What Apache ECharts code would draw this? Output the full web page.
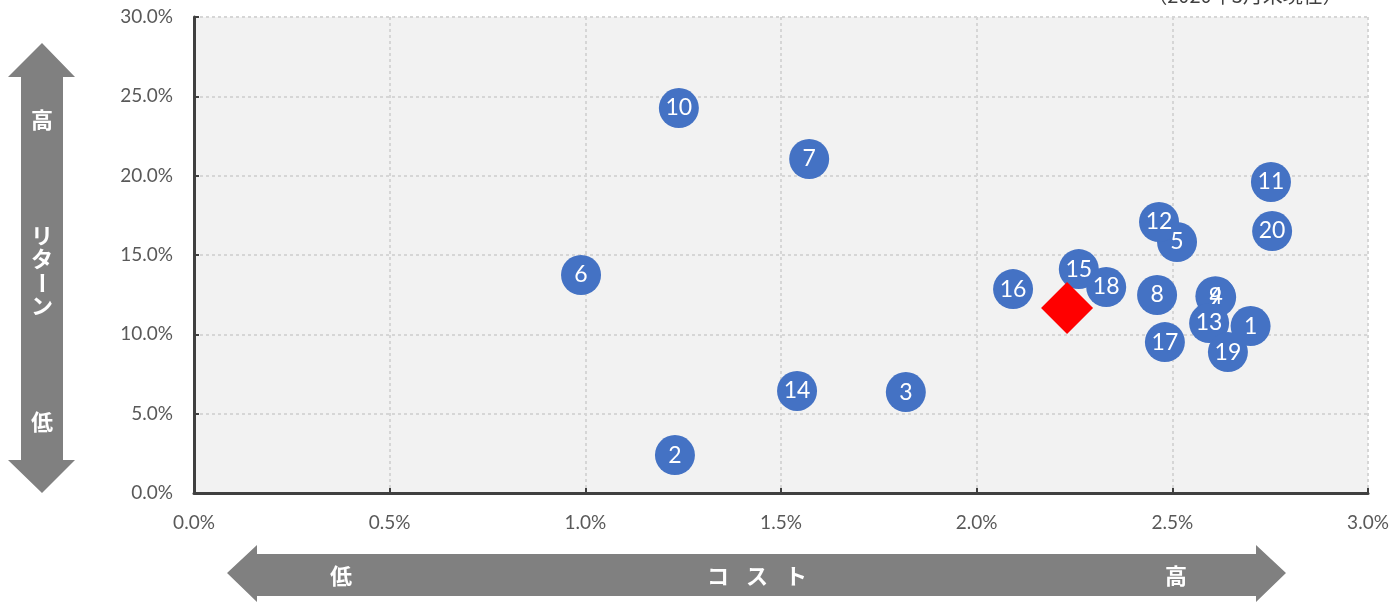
<!DOCTYPE html>
<html><head><meta charset="utf-8">
<script src="https://cdn.jsdelivr.net/npm/echarts@6/dist/echarts.min.js"></script>
<style>html,body{margin:0;padding:0;background:#fff}#c{width:1395px;height:602px}</style>
</head><body><div id="c"></div>
<script>
// Data
const fundIds = ['1','2','3','4','5','6','7','8','9','10','11','12','13','14','15','16','17','18','19','20'];
const costValues = [2.70,1.229,1.819,2.612,2.512,0.989,1.572,2.461,2.610,1.239,2.752,2.466,2.594,1.541,2.261,2.093,2.481,2.331,2.642,2.755];
const returnValues = [10.52,2.39,6.36,12.35,15.82,13.74,21.05,12.48,12.40,24.26,19.60,17.08,10.71,6.43,14.11,12.85,9.51,12.98,8.88,16.51];
const targetPoint = [2.231, 11.66];
const xTicks = ['0.0%','0.5%','1.0%','1.5%','2.0%','2.5%','3.0%'];
const yTicks = ['0.0%','5.0%','10.0%','15.0%','20.0%','25.0%','30.0%'];
const noteText = '（2020年3月末現在）';

const chart = echarts.init(document.getElementById('c'));
const fontFam = 'Lato, "Noto Sans CJK JP", sans-serif';
const gray = '#808080';
const pts = fundIds.map((id,i)=>({name:id, value:[costValues[i], returnValues[i]]}));
const jp = 'bold 22px "Noto Sans CJK JP"';
function t(x,y,s,rot){
  const o = {type:'text', x:x, y:y, style:{text:s, fill:'#fff', font:jp, align:'center', verticalAlign:'middle'}};
  if(rot){o.rotation = rot;}
  return o;
}

chart.setOption({
  animation:false,
  grid:{left:194, right:27, top:17, bottom:109, show:true, backgroundColor:'#f2f2f2', borderWidth:0},
  xAxis:{type:'value', min:0, max:3, interval:0.5,
    axisLine:{show:true, onZero:false, lineStyle:{color:'#404040', width:3}},
    axisTick:{show:true, inside:true, length:5, lineStyle:{color:'#404040', width:2}},
    axisLabel:{color:'#595959', fontSize:19, fontFamily:fontFam, margin:20,
      formatter:(v)=>xTicks[Math.round(v/0.5)]},
    splitLine:{show:true, lineStyle:{color:'#d6d6d6', type:[3,3], width:2}}},
  yAxis:{type:'value', min:0, max:30, interval:5,
    axisLine:{show:true, onZero:false, lineStyle:{color:'#404040', width:3}},
    axisTick:{show:true, inside:true, length:5, lineStyle:{color:'#404040', width:2}},
    axisLabel:{color:'#595959', fontSize:19, fontFamily:fontFam, margin:21,
      formatter:(v)=>yTicks[Math.round(v/5)]},
    splitLine:{show:true, lineStyle:{color:'#d6d6d6', type:[3,3], width:2}}},
  series:[
    {type:'scatter', data:pts, symbol:'circle', symbolSize:40,
     itemStyle:{color:'#4472C4', opacity:1},
     emphasis:{disabled:true},
     label:{show:true, position:'inside', formatter:(p)=>p.name, color:'#fff', fontSize:23, fontFamily:fontFam}},
    {type:'scatter', data:[targetPoint], symbol:'diamond', symbolSize:52, itemStyle:{color:'#ff0000', opacity:1}, z:3, emphasis:{disabled:true}}
  ],
  graphic:[
    {type:'polygon', shape:{points:[[42,43],[75,77],[63,77],[63,460],[75,460],[42,493],[8,460],[21,460],[21,77],[8,77]]}, style:{fill:gray}},
    t(42,120,'高'),
    t(42,236,'リ'),
    t(42,259,'タ'),
    t(42,283,'ー',-Math.PI/2),
    t(42,306,'ン'),
    t(42,422,'低'),
    {type:'polygon', shape:{points:[[227,573],[257,545],[257,554],[1256,554],[1256,545],[1286,573],[1256,602],[1256,596],[257,596],[257,602]]}, style:{fill:gray}},
    t(341,576,'低'),
    t(718,576,'コ'),
    t(757,576,'ス'),
    t(796,576,'ト'),
    t(1176,576,'高'),
    {type:'text', x:1245, y:5, style:{text:noteText, fill:'#404040', font:'20px "Noto Sans CJK JP"', align:'center', verticalAlign:'bottom'}}
  ]
});
</script></body></html>
